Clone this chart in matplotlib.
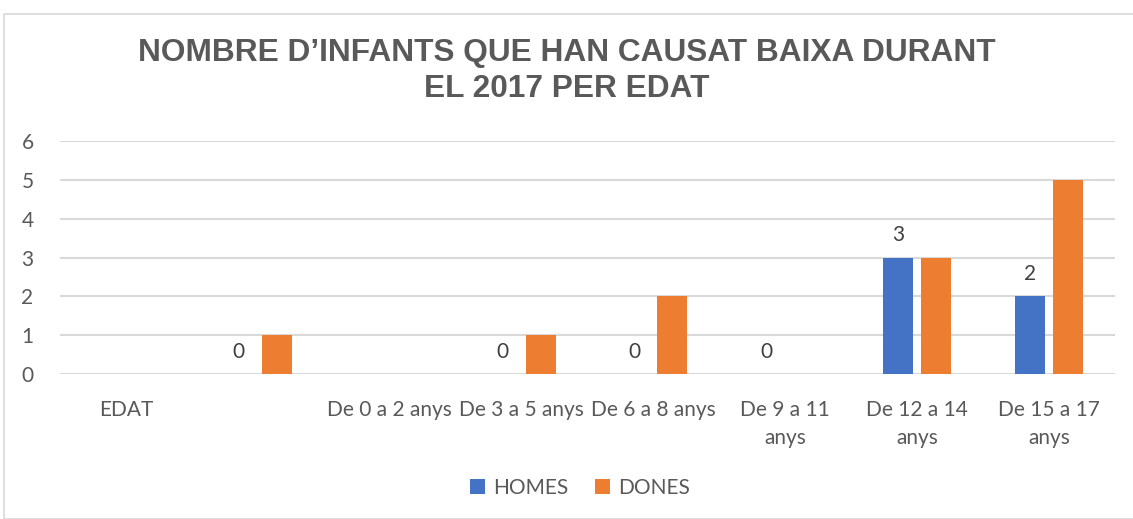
import matplotlib.pyplot as plt
import numpy as np
from matplotlib.patches import Rectangle

CATEGORIES = [
    "EDAT",
    "",
    "De 0 a 2 anys",
    "De 3 a 5 anys",
    "De 6 a 8 anys",
    "De 9 a 11\nanys",
    "De 12 a 14\nanys",
    "De 15 a 17\nanys",
]
HOMES = [np.nan, 0, np.nan, 0, 0, 0, 3, 2]
DONES = [np.nan, 1, np.nan, 1, 2, np.nan, 3, 5]

BLUE = "#4472c4"
ORANGE = "#ed7d31"
TEXT = "#595959"
GRID = "#d9d9d9"
FS = 15

plt.rcParams["font.family"] = ["Lato", "DejaVu Sans"]

fig = plt.figure(figsize=(11.33, 5.19), dpi=100)
fig.patches.append(
    Rectangle((4 / 1133, 0), 1.0, 1 - 14 / 519, transform=fig.transFigure,
              fill=False, edgecolor=GRID, linewidth=1.2)
)

ax = fig.add_axes([60 / 1133, 1 - 374 / 519, 1055 / 1133, 233 / 519])
x = np.arange(len(CATEGORIES))
width = 0.227
offset = 0.144

homes_bars = ax.bar(x - offset, HOMES, width, color=BLUE, label="HOMES", zorder=3)
dones_bars = ax.bar(x + offset, DONES, width, color=ORANGE, label="DONES", zorder=3)

# only the HOMES series carries data labels
for xi, val in zip(x, HOMES):
    if not np.isnan(val):
        ax.annotate(f"{val:g}", (xi - offset, val), xytext=(0, 9),
                    textcoords="offset points", ha="center", va="bottom",
                    fontsize=FS, color="#404040")

ax.set_xlim(-0.5, len(CATEGORIES) - 0.5)
ax.set_ylim(0, 6)
ax.set_yticks(range(7))
ax.set_xticks(x)
ax.set_xticklabels(CATEGORIES, fontsize=FS, color=TEXT, linespacing=1.5)
ax.tick_params(axis="y", labelsize=FS, labelcolor=TEXT, length=0, pad=19)
ax.tick_params(axis="x", length=0, pad=19)
ax.grid(axis="y", color=GRID, linewidth=1.5, zorder=0)
for s in ax.spines.values():
    s.set_visible(False)

fig.text(0.5, 1 - 71 / 519, "NOMBRE D’INFANTS QUE HAN CAUSAT BAIXA DURANT\nEL 2017 PER EDAT",
         ha="center", va="center", fontsize=22.8, fontweight="bold", color=TEXT,
         family=["Liberation Sans", "DejaVu Sans"], linespacing=1.3)

fig.legend(handles=[homes_bars, dones_bars], loc="center",
           bbox_to_anchor=(580 / 1133, 1 - 488 / 519), ncol=2, frameon=False,
           fontsize=FS, labelcolor=TEXT, handlelength=0.7, handleheight=0.7,
           handletextpad=0.4, columnspacing=1.3)

fig.savefig("out.png", dpi=100)
